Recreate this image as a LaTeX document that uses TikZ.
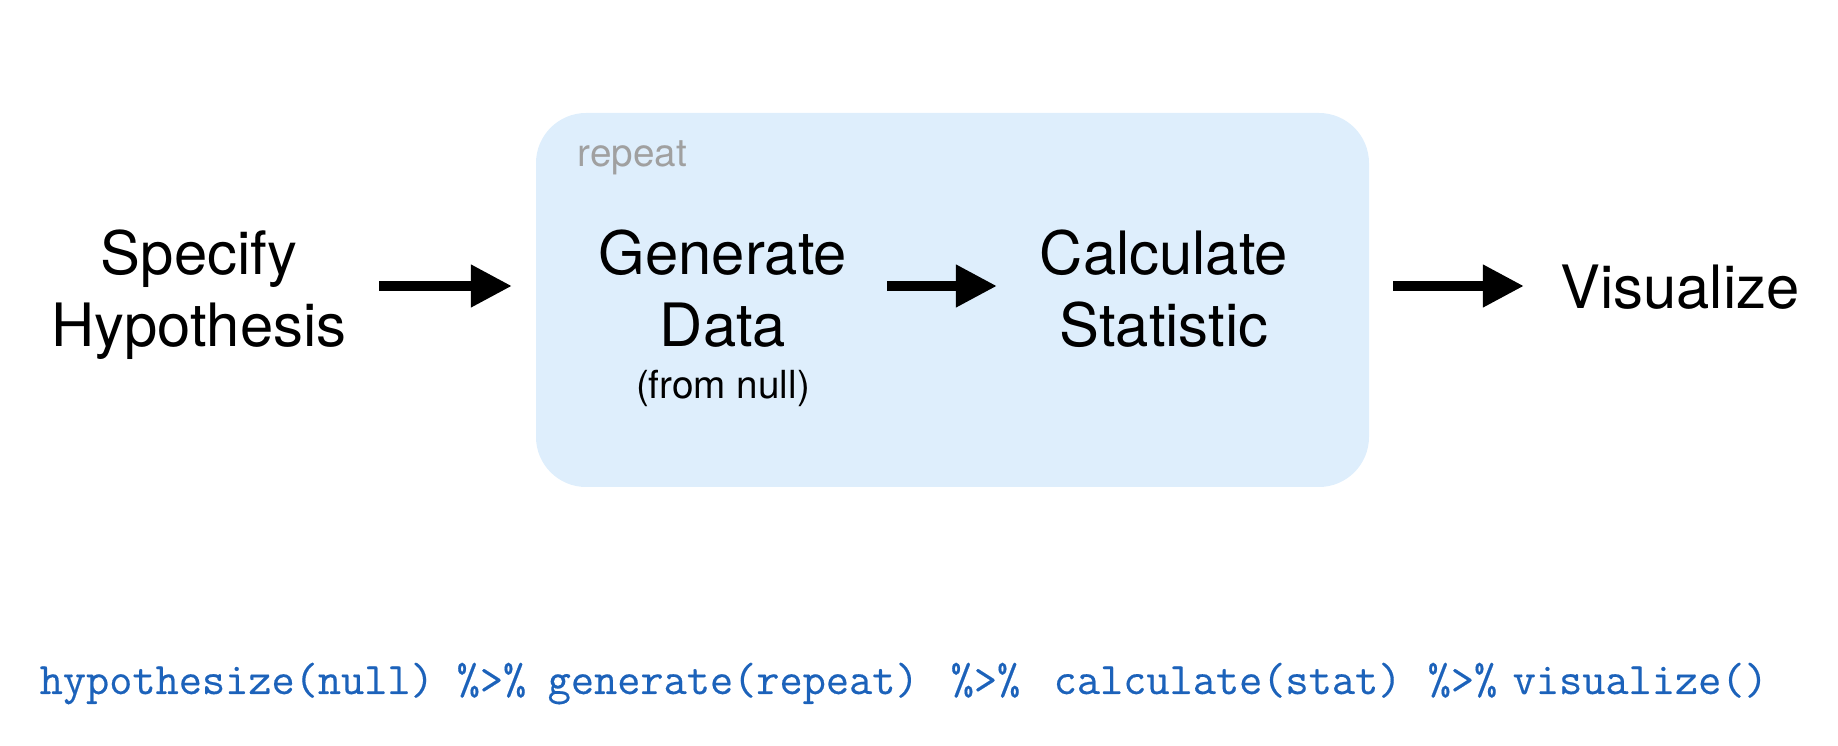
\documentclass[tikz,border=0pt]{standalone}
\usepackage{fontspec}
\setmainfont{TeX Gyre Heros}
\newfontfamily\codefont{Latin Modern Mono}[RawFeature={embolden=0.35}]
\usetikzlibrary{arrows.meta}
\definecolor{boxfill}{RGB}{222,238,252}
\definecolor{codeblue}{RGB}{28,98,186}
\definecolor{repgray}{RGB}{160,160,160}
\begin{document}
\begin{tikzpicture}[x=0.01cm,y=-0.01cm,
  bigtext/.style={align=center,anchor=base,inner sep=0pt,font=\fontsize{17pt}{20.6pt}\selectfont},
  smalltext/.style={anchor=base,inner sep=0pt,font=\fontsize{11pt}{13pt}\selectfont},
  codetext/.style={anchor=base west,inner sep=0pt,text=codeblue,font=\codefont\fontsize{12.8pt}{14pt}\selectfont},
  flowarrow/.style={line width=0.1cm,-{Triangle[length=0.41cm,width=0.40cm]}}]
\useasboundingbox (0,0) rectangle (1838,746);
% repeat box
\fill[boxfill,rounded corners=0.5cm] (536,113) rectangle (1369,487);
\node[smalltext,anchor=base west,text=repgray] (rep) at (577,167) {repeat};
% texts (anchored at the baseline of the last line)
\node[bigtext] (spec) at (199,347) {Specify\\Hypothesis};
\node[bigtext] (gen) at (723,347) {Generate\\Data};
\node[smalltext] (null) at (723,399) {(from null)};
\node[bigtext] (calc) at (1164,347) {Calculate\\Statistic};
\node[bigtext] (vis) at (1680,309) {Visualize};
% arrows
\coordinate (a1s) at (379,286); \coordinate (a1e) at (512,286);
\coordinate (a2s) at (887,286); \coordinate (a2e) at (997,286);
\coordinate (a3s) at (1393,286); \coordinate (a3e) at (1524,286);
\draw[flowarrow] (a1s) -- (a1e);
\draw[flowarrow] (a2s) -- (a2e);
\draw[flowarrow] (a3s) -- (a3e);
% code
\node[codetext] (c1) at (39,694) {hypothesize(null)};
\node[codetext] (p1) at (456,694) {\%>\%};
\node[codetext] (c2) at (547,694) {generate(repeat)};
\node[codetext] (p2) at (950,694) {\%>\%};
\node[codetext] (c3) at (1053,694) {calculate(stat)};
\node[codetext] (p3) at (1427,694) {\%>\%};
\node[codetext] (c4) at (1512,694) {visualize()};
\end{tikzpicture}
\end{document}
